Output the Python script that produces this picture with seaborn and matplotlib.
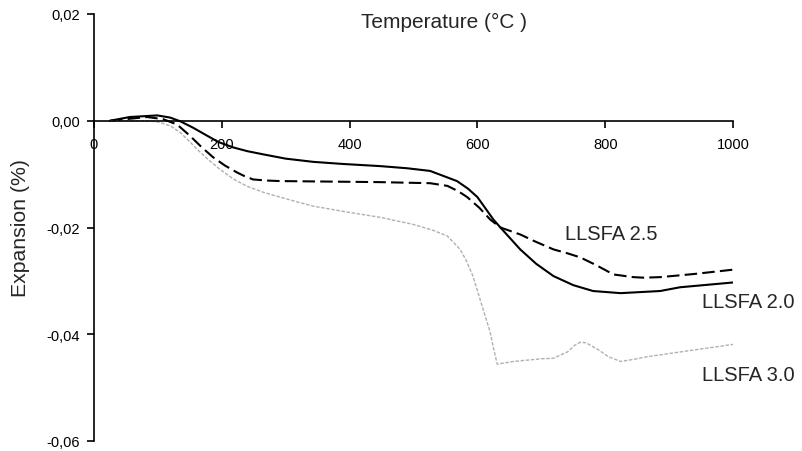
import matplotlib
matplotlib.use("Agg")
import matplotlib.pyplot as plt
import seaborn as sns
import pandas as pd

sns.set_style("white")
plt.rcParams['font.family'] = ['Liberation Sans', 'DejaVu Sans']

# Temperature (°C) and expansion (%)
t_20 = [25, 56, 99, 119, 135, 155, 177, 195, 218, 240, 265, 300, 343, 390, 448, 490,
        526, 568, 585, 600, 625, 636, 667, 692, 719, 750, 781, 824, 886, 917, 1000]
e_20 = [0.0, 0.0007, 0.0010, 0.0006, -0.0001, -0.0013, -0.0028, -0.0040, -0.0050,
        -0.0057, -0.0063, -0.0071, -0.0077, -0.0081, -0.0085, -0.0089, -0.0094,
        -0.0113, -0.0127, -0.0143, -0.0185, -0.0200, -0.0241, -0.0268, -0.0291,
        -0.0308, -0.0319, -0.0323, -0.0319, -0.0312, -0.0303]

t_25 = [25, 83, 108, 130, 150, 168, 186, 205, 224, 236, 249, 270, 291, 370, 448,
        526, 553, 570, 584, 603, 620, 636, 667, 690, 719, 740, 761, 785, 813, 844,
        860, 886, 940, 1000]
e_25 = [0.0, 0.0007, 0.0003, -0.0007, -0.0028, -0.0049, -0.0068, -0.0084, -0.0097,
        -0.0104, -0.0110, -0.0112, -0.0113, -0.0114, -0.0115, -0.0117, -0.0122,
        -0.0132, -0.0143, -0.0163, -0.0185, -0.0200, -0.0213, -0.0226, -0.0241,
        -0.0248, -0.0256, -0.0270, -0.0288, -0.0293, -0.0294, -0.0293, -0.0287,
        -0.0279]

t_30 = [25, 83, 103, 120, 135, 148, 161, 178, 197, 218, 240, 265, 291, 318, 343,
        396, 448, 499, 530, 553, 573, 583, 593, 604, 612, 620, 625, 631, 656, 700,
        719, 741, 752, 761, 770, 788, 805, 824, 845, 866, 930, 1000]
e_30 = [0.0, 0.0, -0.0003, -0.0010, -0.0022, -0.0037, -0.0053, -0.0072, -0.0091,
        -0.0109, -0.0123, -0.0134, -0.0143, -0.0152, -0.0160, -0.0171, -0.0181,
        -0.0194, -0.0205, -0.0216, -0.0241, -0.0263, -0.0291, -0.0334, -0.0365,
        -0.0396, -0.0425, -0.0456, -0.0451, -0.0446, -0.0445, -0.0433, -0.0421,
        -0.0415, -0.0416, -0.0428, -0.0442, -0.0451, -0.0447, -0.0442, -0.0431,
        -0.0419]

series_names = ["LLSFA 2.0", "LLSFA 2.5", "LLSFA 3.0"]
x_ticks = [0, 200, 400, 600, 800, 1000]
y_ticks = [0.02, 0.00, -0.02, -0.04, -0.06]
y_tick_labels = ["0,02", "0,00", "-0,02", "-0,04", "-0,06"]

fig = plt.figure(figsize=(8.02, 4.52), dpi=100)
ax = fig.add_axes([94 / 802, 10 / 452, 639 / 802, 427 / 452])

styles = {
    "LLSFA 2.0": dict(color="black", linestyle="-", linewidth=1.5),
    "LLSFA 2.5": dict(color="black", linestyle=(0, (6, 2.5)), linewidth=1.5),
    "LLSFA 3.0": dict(color="#b0b0b0", linestyle=(0, (2.5, 1.2)), linewidth=1.0),
}
for name, t, e in zip(series_names, [t_20, t_25, t_30], [e_20, e_25, e_30]):
    df = pd.DataFrame({"T": t, "E": e})
    sns.lineplot(data=df, x="T", y="E", ax=ax, sort=False, estimator=None, **styles[name])

ax.set_xlim(0, 1000)
ax.set_ylim(-0.06, 0.02)
ax.set_xticks(x_ticks)
ax.set_xticklabels([str(v) for v in x_ticks])
ax.set_yticks(y_ticks)
ax.set_yticklabels(y_tick_labels)

ax.spines['top'].set_visible(False)
ax.spines['right'].set_visible(False)
ax.spines['bottom'].set_position(('data', 0))
for s in ['left', 'bottom']:
    ax.spines[s].set_color('black')
    ax.spines[s].set_linewidth(1.2)

ax.tick_params(axis='x', bottom=True, direction='out', length=5, width=1.2, pad=7,
               labelsize=10.5, colors='black')
ax.tick_params(axis='y', left=True, direction='out', length=5, width=1.2, pad=5,
               labelsize=10.5, colors='black')
ax.set_xlabel("")
ax.set_ylabel("")

fig.text(21 / 802, 1 - 228 / 452, "Expansion (%)", rotation=90, ha='center', va='center', fontsize=15.3)
fig.text(444 / 802, 1 - 22 / 452, "Temperature (°C )", ha='center', va='center', fontsize=15)

ax.text(737, -0.0211, "LLSFA 2.5", ha='left', va='center', fontsize=14.5)
ax.text(952, -0.0338, "LLSFA 2.0", ha='left', va='center', fontsize=14.5, clip_on=False)
ax.text(952, -0.0475, "LLSFA 3.0", ha='left', va='center', fontsize=14.5, clip_on=False)

fig.savefig("out.png", dpi=100)
